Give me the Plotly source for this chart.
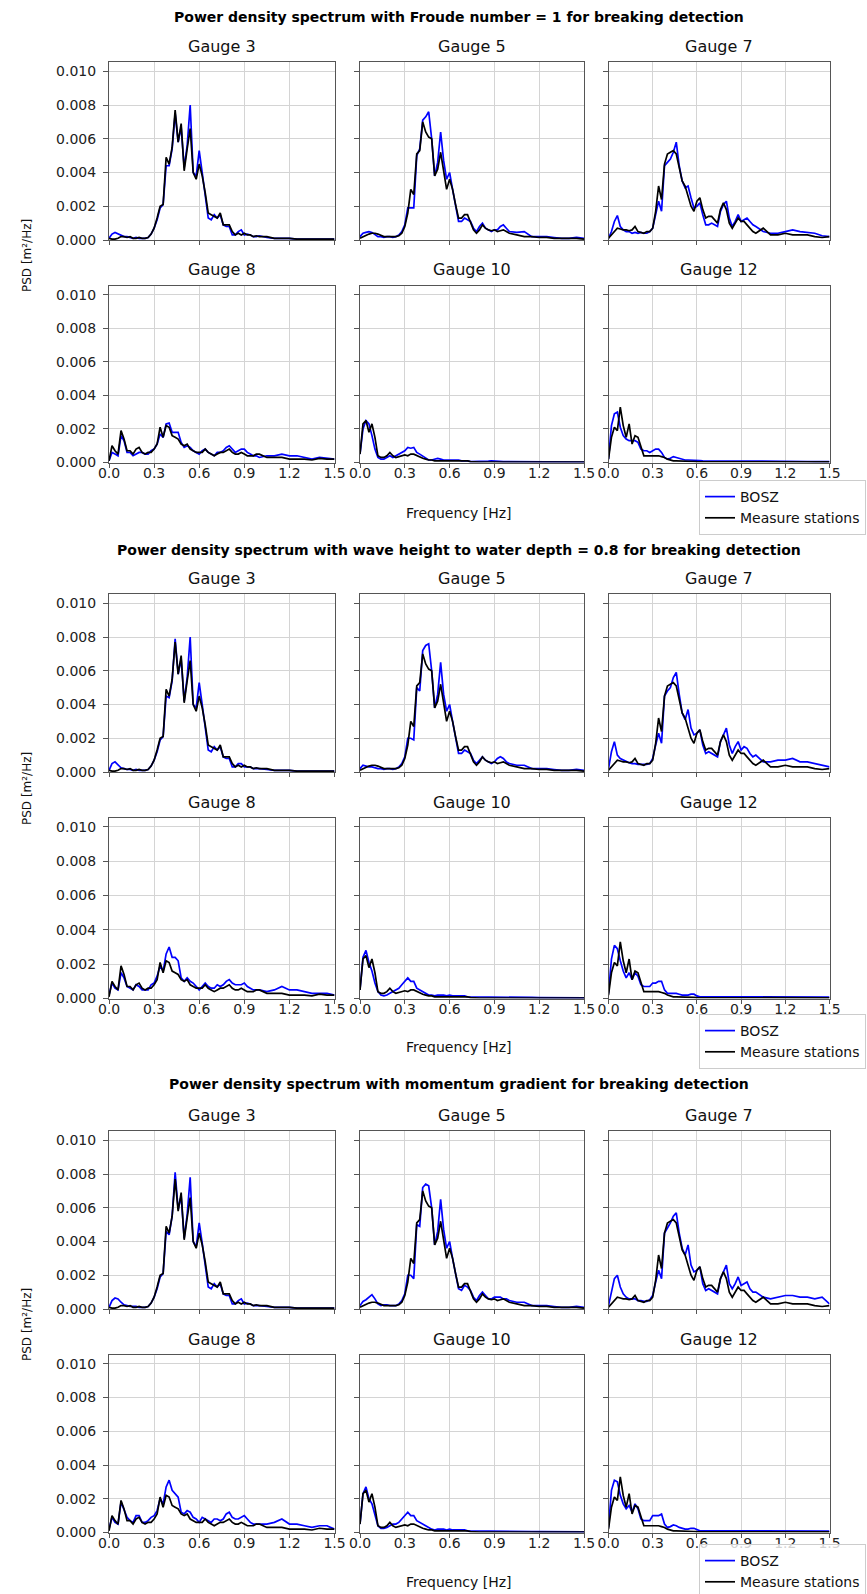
import plotly.graph_objects as go

W, H = 867, 1594

# ---------------- data (PSD values in units of 1e-3 m²/Hz) ----------------
F = [0.00, 0.02, 0.04, 0.06, 0.08, 0.10, 0.12, 0.14, 0.16, 0.18,
     0.20, 0.22, 0.24, 0.26, 0.28, 0.30, 0.32, 0.34, 0.36, 0.38,
     0.40, 0.42, 0.44, 0.46, 0.48, 0.50, 0.52, 0.54, 0.56, 0.58,
     0.60, 0.62, 0.64, 0.66, 0.68, 0.70, 0.72, 0.74, 0.76, 0.78,
     0.80, 0.82, 0.84, 0.86, 0.88, 0.90, 0.92, 0.94, 0.96, 0.98,
     1.00, 1.05, 1.10, 1.15, 1.20, 1.25, 1.30, 1.35, 1.40, 1.45, 1.50]

# Measured (same in all three figures)
MEAS_G3 = [0.10, 0.05, 0.05, 0.10, 0.20, 0.20, 0.15, 0.20, 0.10, 0.10,
           0.15, 0.10, 0.10, 0.15, 0.35, 0.70, 1.30, 2.00, 2.10, 4.90,
           4.50, 5.50, 7.70, 5.80, 6.90, 4.10, 5.40, 6.60, 4.00, 3.60,
           4.50, 3.80, 2.80, 1.60, 1.50, 1.40, 1.30, 1.60, 0.90, 0.90,
           0.90, 0.50, 0.30, 0.40, 0.30, 0.40, 0.30, 0.30, 0.20, 0.25,
           0.20, 0.20, 0.10, 0.10, 0.10, 0.05, 0.05, 0.05, 0.05, 0.05, 0.05]
MEAS_G5 = [0.10, 0.20, 0.30, 0.35, 0.40, 0.40, 0.35, 0.25, 0.20, 0.20,
           0.20, 0.20, 0.20, 0.25, 0.40, 0.80, 1.60, 3.00, 2.70, 5.10,
           5.30, 7.00, 6.40, 6.10, 6.00, 3.80, 4.20, 5.20, 4.00, 3.00,
           3.60, 3.00, 2.10, 1.30, 1.30, 1.50, 1.50, 1.00, 0.60, 0.40,
           0.60, 0.90, 0.70, 0.60, 0.55, 0.60, 0.50, 0.55, 0.60, 0.50,
           0.40, 0.30, 0.20, 0.20, 0.15, 0.15, 0.10, 0.10, 0.10, 0.10, 0.05]
MEAS_G7 = [0.10, 0.30, 0.50, 0.70, 0.65, 0.60, 0.60, 0.55, 0.60, 0.80,
           0.50, 0.45, 0.40, 0.50, 0.50, 0.70, 1.70, 3.20, 2.40, 4.50,
           5.10, 5.20, 5.30, 5.10, 4.20, 3.50, 3.20, 2.60, 2.00, 1.70,
           2.30, 2.50, 1.80, 1.30, 1.40, 1.40, 1.20, 1.00, 1.80, 2.20,
           1.80, 1.00, 0.70, 1.00, 1.30, 1.10, 1.10, 0.90, 0.70, 0.50,
           0.40, 0.70, 0.30, 0.30, 0.40, 0.30, 0.30, 0.30, 0.20, 0.15, 0.20]
MEAS_G8 = [0.10, 1.00, 0.70, 0.50, 1.90, 1.40, 0.70, 0.70, 0.50, 0.80,
           0.90, 0.60, 0.50, 0.60, 0.60, 0.80, 1.10, 2.10, 1.50, 2.20,
           2.10, 1.60, 1.50, 1.40, 1.10, 1.00, 1.10, 0.80, 0.70, 0.60,
           0.60, 0.60, 0.80, 0.60, 0.50, 0.40, 0.50, 0.60, 0.60, 0.70,
           0.80, 0.60, 0.50, 0.50, 0.60, 0.50, 0.40, 0.40, 0.40, 0.50,
           0.50, 0.30, 0.30, 0.30, 0.20, 0.20, 0.20, 0.15, 0.25, 0.20, 0.20]
MEAS_G10 = [0.50, 2.30, 2.50, 1.80, 2.30, 1.50, 0.40, 0.30, 0.30, 0.40,
            0.60, 0.40, 0.30, 0.35, 0.40, 0.45, 0.40, 0.50, 0.50, 0.40,
            0.30, 0.25, 0.20, 0.15, 0.15, 0.10, 0.10, 0.10, 0.10, 0.10,
            0.10, 0.10, 0.10, 0.10, 0.10, 0.10, 0.10, 0.05, 0.03, 0.03,
            0.03, 0.03, 0.03, 0.03, 0.03, 0.03, 0.03, 0.03, 0.03, 0.03,
            0.03, 0.03, 0.03, 0.03, 0.03, 0.03, 0.03, 0.03, 0.03, 0.03, 0.03]
MEAS_G12 = [0.20, 1.50, 2.10, 1.90, 3.30, 2.20, 1.50, 2.30, 1.10, 1.60,
            1.50, 0.90, 0.40, 0.40, 0.40, 0.40, 0.40, 0.40, 0.35, 0.30,
            0.20, 0.15, 0.10, 0.10, 0.10, 0.08, 0.08, 0.08, 0.06, 0.06,
            0.05, 0.05, 0.05, 0.05, 0.05, 0.05, 0.04, 0.04, 0.04, 0.04,
            0.04, 0.04, 0.04, 0.04, 0.04, 0.04, 0.04, 0.04, 0.04, 0.04,
            0.04, 0.04, 0.04, 0.04, 0.04, 0.04, 0.04, 0.04, 0.04, 0.04, 0.04]

# BOSZ, Froude number = 1
BOSZ_FR_G3 = [0.10, 0.35, 0.45, 0.35, 0.25, 0.20, 0.20, 0.15, 0.10, 0.15,
              0.10, 0.10, 0.10, 0.15, 0.35, 0.70, 1.20, 1.90, 2.10, 4.40,
              4.40, 5.40, 7.50, 5.80, 6.70, 4.30, 5.60, 8.00, 4.00, 3.80,
              5.30, 4.00, 2.70, 1.30, 1.20, 1.50, 1.30, 1.50, 0.90, 0.80,
              0.80, 0.30, 0.30, 0.50, 0.60, 0.30, 0.35, 0.30, 0.20, 0.20,
              0.25, 0.15, 0.10, 0.10, 0.10, 0.05, 0.05, 0.05, 0.05, 0.05, 0.05]
BOSZ_FR_G5 = [0.20, 0.40, 0.45, 0.50, 0.45, 0.30, 0.20, 0.20, 0.15, 0.20,
              0.20, 0.15, 0.20, 0.30, 0.50, 0.90, 1.90, 1.90, 1.90, 5.00,
              5.40, 7.10, 7.30, 7.60, 6.00, 3.80, 4.60, 6.40, 4.70, 3.60,
              4.00, 3.00, 2.00, 1.10, 1.10, 1.30, 1.20, 1.10, 0.70, 0.50,
              0.80, 1.00, 0.70, 0.60, 0.50, 0.60, 0.60, 0.80, 0.90, 0.70,
              0.50, 0.45, 0.50, 0.20, 0.20, 0.20, 0.15, 0.10, 0.10, 0.15, 0.10]
BOSZ_FR_G7 = [0.10, 0.50, 1.10, 1.45, 0.80, 0.60, 0.50, 0.50, 0.40, 0.45,
              0.40, 0.45, 0.40, 0.40, 0.50, 0.70, 1.50, 2.30, 1.70, 4.40,
              4.60, 4.80, 5.20, 5.80, 4.40, 3.50, 3.10, 3.20, 2.50, 1.90,
              2.00, 2.20, 1.50, 0.90, 0.90, 1.00, 0.90, 0.80, 1.70, 2.10,
              2.30, 1.30, 0.80, 1.10, 1.50, 1.10, 1.20, 1.30, 1.10, 0.90,
              0.80, 0.50, 0.40, 0.40, 0.50, 0.60, 0.50, 0.45, 0.40, 0.25, 0.20]
BOSZ_FR_G8 = [0.10, 0.60, 0.50, 0.40, 1.60, 1.30, 0.60, 0.60, 0.40, 0.50,
              0.60, 0.60, 0.50, 0.50, 0.70, 0.80, 1.10, 1.70, 1.50, 2.30,
              2.35, 1.80, 1.80, 1.80, 1.20, 0.90, 1.00, 0.90, 0.70, 0.60,
              0.50, 0.70, 0.80, 0.60, 0.50, 0.40, 0.60, 0.60, 0.70, 0.90,
              1.00, 0.80, 0.60, 0.70, 0.80, 0.80, 0.60, 0.50, 0.40, 0.40,
              0.30, 0.40, 0.40, 0.50, 0.40, 0.40, 0.30, 0.20, 0.30, 0.25, 0.20]
BOSZ_FR_G10 = [0.50, 2.00, 2.50, 2.30, 1.60, 0.80, 0.30, 0.20, 0.20, 0.30,
               0.40, 0.30, 0.40, 0.50, 0.60, 0.70, 0.90, 0.85, 0.90, 0.60,
               0.50, 0.40, 0.30, 0.15, 0.15, 0.20, 0.25, 0.20, 0.15, 0.15,
               0.15, 0.15, 0.15, 0.15, 0.10, 0.10, 0.10, 0.05, 0.05, 0.05,
               0.08, 0.08, 0.08, 0.08, 0.10, 0.08, 0.05, 0.05, 0.05, 0.05,
               0.05, 0.05, 0.05, 0.05, 0.06, 0.05, 0.05, 0.03, 0.03, 0.03, 0.03]
BOSZ_FR_G12 = [0.20, 2.20, 2.90, 3.00, 2.10, 1.60, 1.40, 1.30, 1.30, 1.30,
               1.20, 0.80, 0.70, 0.70, 0.60, 0.70, 0.80, 0.80, 0.60, 0.30,
               0.20, 0.25, 0.35, 0.30, 0.25, 0.20, 0.15, 0.15, 0.15, 0.15,
               0.15, 0.12, 0.10, 0.10, 0.08, 0.08, 0.07, 0.07, 0.07, 0.07,
               0.07, 0.07, 0.07, 0.07, 0.08, 0.10, 0.07, 0.06, 0.06, 0.06,
               0.06, 0.06, 0.06, 0.06, 0.06, 0.06, 0.10, 0.06, 0.05, 0.05, 0.05]

# BOSZ, wave height to water depth = 0.8
BOSZ_HD_G3 = [0.10, 0.50, 0.60, 0.40, 0.25, 0.20, 0.15, 0.15, 0.10, 0.15,
              0.10, 0.10, 0.10, 0.15, 0.35, 0.70, 1.20, 1.90, 2.10, 4.50,
              4.40, 5.40, 7.90, 5.80, 6.70, 4.20, 5.60, 8.00, 4.00, 3.80,
              5.30, 4.00, 2.70, 1.30, 1.20, 1.50, 1.30, 1.50, 0.90, 0.80,
              0.80, 0.30, 0.30, 0.50, 0.50, 0.30, 0.30, 0.30, 0.20, 0.20,
              0.20, 0.15, 0.10, 0.10, 0.10, 0.05, 0.05, 0.05, 0.05, 0.05, 0.05]
BOSZ_HD_G5 = [0.20, 0.40, 0.35, 0.30, 0.30, 0.25, 0.20, 0.20, 0.15, 0.20,
              0.20, 0.15, 0.20, 0.30, 0.50, 0.90, 2.00, 2.00, 1.90, 5.00,
              4.80, 7.20, 7.50, 7.60, 6.00, 3.80, 4.60, 6.50, 4.60, 3.60,
              4.00, 3.00, 2.00, 1.10, 1.10, 1.30, 1.20, 1.10, 0.70, 0.50,
              0.70, 0.90, 0.70, 0.60, 0.50, 0.60, 0.80, 0.90, 0.80, 0.60,
              0.50, 0.40, 0.40, 0.20, 0.20, 0.20, 0.15, 0.10, 0.10, 0.15, 0.10]
BOSZ_HD_G7 = [0.20, 1.20, 1.80, 1.00, 0.80, 0.70, 0.60, 0.55, 0.50, 0.50,
              0.45, 0.45, 0.45, 0.45, 0.50, 0.80, 1.60, 2.30, 1.70, 4.50,
              4.80, 5.00, 5.60, 5.90, 4.60, 3.50, 3.10, 3.70, 2.60, 2.20,
              2.30, 2.50, 1.60, 1.10, 1.20, 1.10, 1.00, 0.90, 1.80, 2.20,
              2.60, 1.60, 1.10, 1.50, 1.80, 1.30, 1.50, 1.40, 1.10, 0.90,
              1.00, 0.60, 0.60, 0.70, 0.70, 0.80, 0.60, 0.60, 0.50, 0.40, 0.30]
BOSZ_HD_G8 = [0.20, 0.90, 0.60, 0.50, 1.50, 1.20, 0.70, 0.60, 0.50, 0.80,
              0.70, 0.50, 0.50, 0.50, 0.80, 0.90, 1.30, 1.90, 1.60, 2.60,
              3.00, 2.40, 2.40, 2.20, 1.20, 1.00, 1.20, 1.00, 0.90, 0.70,
              0.50, 0.70, 0.90, 0.70, 0.60, 0.60, 0.80, 0.70, 0.80, 1.00,
              1.10, 0.90, 0.80, 0.80, 0.80, 0.90, 0.70, 0.60, 0.50, 0.50,
              0.50, 0.40, 0.50, 0.70, 0.50, 0.50, 0.40, 0.30, 0.30, 0.30, 0.20]
BOSZ_HD_G10 = [0.50, 2.40, 2.80, 2.10, 1.60, 0.90, 0.40, 0.20, 0.15, 0.20,
               0.30, 0.40, 0.45, 0.60, 0.80, 1.00, 1.20, 1.00, 1.00, 0.60,
               0.50, 0.40, 0.30, 0.20, 0.20, 0.15, 0.20, 0.20, 0.20, 0.15,
               0.20, 0.15, 0.15, 0.15, 0.15, 0.15, 0.10, 0.10, 0.10, 0.10,
               0.10, 0.10, 0.10, 0.10, 0.10, 0.10, 0.08, 0.08, 0.08, 0.08,
               0.08, 0.08, 0.06, 0.06, 0.05, 0.05, 0.05, 0.05, 0.04, 0.04, 0.04]
BOSZ_HD_G12 = [0.30, 2.30, 3.10, 2.90, 2.20, 1.60, 1.20, 1.50, 1.10, 1.50,
               1.30, 0.80, 0.70, 0.70, 0.70, 0.90, 0.90, 1.00, 1.00, 0.50,
               0.30, 0.30, 0.30, 0.30, 0.25, 0.20, 0.20, 0.20, 0.25, 0.25,
               0.15, 0.10, 0.10, 0.10, 0.08, 0.08, 0.08, 0.08, 0.08, 0.08,
               0.08, 0.08, 0.08, 0.08, 0.08, 0.08, 0.08, 0.08, 0.08, 0.08,
               0.08, 0.08, 0.08, 0.08, 0.08, 0.08, 0.08, 0.08, 0.08, 0.08, 0.08]

# BOSZ, momentum gradient
BOSZ_MG_G3 = [0.10, 0.50, 0.65, 0.60, 0.40, 0.25, 0.20, 0.15, 0.15, 0.15,
              0.10, 0.10, 0.10, 0.15, 0.35, 0.70, 1.20, 1.90, 2.10, 4.60,
              4.40, 5.50, 8.10, 5.90, 6.70, 4.20, 5.60, 7.80, 4.00, 3.70,
              5.10, 3.90, 2.70, 1.30, 1.20, 1.50, 1.30, 1.50, 0.90, 0.80,
              0.80, 0.30, 0.30, 0.50, 0.60, 0.30, 0.35, 0.30, 0.20, 0.20,
              0.20, 0.15, 0.10, 0.10, 0.10, 0.05, 0.05, 0.05, 0.05, 0.05, 0.05]
BOSZ_MG_G5 = [0.20, 0.45, 0.55, 0.70, 0.85, 0.60, 0.30, 0.20, 0.25, 0.25,
              0.20, 0.20, 0.20, 0.30, 0.50, 0.90, 2.00, 2.00, 1.80, 5.00,
              4.90, 7.20, 7.40, 7.30, 6.00, 3.80, 4.60, 6.50, 4.70, 3.60,
              4.00, 3.00, 2.00, 1.20, 1.10, 1.40, 1.30, 1.10, 0.70, 0.50,
              0.80, 1.00, 0.80, 0.60, 0.60, 0.70, 0.70, 0.70, 0.60, 0.60,
              0.50, 0.40, 0.40, 0.20, 0.20, 0.20, 0.15, 0.10, 0.10, 0.15, 0.10]
BOSZ_MG_G7 = [0.20, 1.00, 1.80, 2.00, 1.30, 0.90, 0.70, 0.60, 0.60, 0.60,
              0.50, 0.50, 0.45, 0.45, 0.55, 0.80, 1.60, 2.30, 1.80, 4.50,
              4.80, 5.10, 5.50, 5.70, 4.50, 3.60, 3.20, 3.80, 2.60, 2.20,
              2.30, 2.50, 1.50, 1.10, 1.20, 1.10, 1.00, 0.90, 1.80, 2.20,
              2.60, 1.50, 1.20, 1.50, 1.90, 1.40, 1.50, 1.60, 1.20, 1.00,
              1.00, 0.70, 0.60, 0.70, 0.80, 0.80, 0.70, 0.70, 0.60, 0.70, 0.30]
BOSZ_MG_G8 = [0.20, 0.90, 0.60, 0.50, 1.80, 1.40, 0.90, 0.70, 0.60, 1.00,
              1.00, 0.60, 0.60, 0.70, 0.90, 1.00, 1.30, 2.00, 1.70, 2.70,
              3.10, 2.50, 2.30, 2.10, 1.20, 1.10, 1.30, 1.20, 0.90, 0.80,
              0.60, 0.90, 0.80, 0.70, 0.60, 0.80, 0.80, 0.70, 0.80, 1.10,
              1.20, 0.90, 0.80, 0.80, 0.90, 1.00, 0.80, 0.60, 0.50, 0.50,
              0.50, 0.50, 0.60, 0.80, 0.50, 0.50, 0.40, 0.30, 0.40, 0.40, 0.20]
BOSZ_MG_G10 = [0.50, 2.30, 2.70, 2.00, 1.70, 1.00, 0.40, 0.25, 0.25, 0.30,
               0.40, 0.50, 0.50, 0.60, 0.80, 1.00, 1.20, 1.00, 1.00, 0.70,
               0.60, 0.50, 0.35, 0.25, 0.20, 0.15, 0.20, 0.20, 0.20, 0.15,
               0.20, 0.15, 0.15, 0.15, 0.15, 0.15, 0.10, 0.10, 0.10, 0.10,
               0.10, 0.10, 0.10, 0.10, 0.10, 0.10, 0.08, 0.08, 0.08, 0.08,
               0.08, 0.08, 0.06, 0.06, 0.05, 0.05, 0.05, 0.05, 0.04, 0.04, 0.04]
BOSZ_MG_G12 = [0.30, 2.50, 3.10, 3.00, 2.20, 1.70, 1.40, 1.60, 1.20, 1.70,
               1.40, 0.80, 0.70, 0.70, 0.70, 1.00, 1.00, 1.00, 1.10, 0.50,
               0.30, 0.35, 0.45, 0.40, 0.30, 0.25, 0.20, 0.20, 0.25, 0.25,
               0.15, 0.10, 0.10, 0.10, 0.08, 0.08, 0.08, 0.08, 0.08, 0.08,
               0.08, 0.08, 0.08, 0.08, 0.08, 0.08, 0.08, 0.08, 0.08, 0.08,
               0.08, 0.08, 0.08, 0.08, 0.08, 0.08, 0.08, 0.08, 0.08, 0.08, 0.08]

GAUGES = ["Gauge 3", "Gauge 5", "Gauge 7", "Gauge 8", "Gauge 10", "Gauge 12"]
PANEL_TITLES = [
    "Power density spectrum with Froude number = 1 for breaking detection",
    "Power density spectrum with wave height to water depth = 0.8 for breaking detection",
    "Power density spectrum with momentum gradient for breaking detection",
]
SERIES_NAMES = ["BOSZ", "Measure stations"]
MEASURED = [MEAS_G3, MEAS_G5, MEAS_G7, MEAS_G8, MEAS_G10, MEAS_G12]
BOSZ = [
    [BOSZ_FR_G3, BOSZ_FR_G5, BOSZ_FR_G7, BOSZ_FR_G8, BOSZ_FR_G10, BOSZ_FR_G12],
    [BOSZ_HD_G3, BOSZ_HD_G5, BOSZ_HD_G7, BOSZ_HD_G8, BOSZ_HD_G10, BOSZ_HD_G12],
    [BOSZ_MG_G3, BOSZ_MG_G5, BOSZ_MG_G7, BOSZ_MG_G8, BOSZ_MG_G10, BOSZ_MG_G12],
]
X_TICKS = [0.0, 0.3, 0.6, 0.9, 1.2, 1.5]
X_TICK_LABELS = ["0.0", "0.3", "0.6", "0.9", "1.2", "1.5"]
Y_TICKS = [0, 2, 4, 6, 8, 10]
Y_TICK_LABELS = ["0.000", "0.002", "0.004", "0.006", "0.008", "0.010"]

# ---------------- layout geometry (pixels) ----------------
FONT = "DejaVu Sans"
COLS = [(109, 334.5), (360, 584), (608.5, 829.5)]
ROWS = [(62.0, 240.0), (285.5, 462.5)]
ROW2_BOTTOM_ADJ = [0, 4, 1]
PANEL_OFF = [0, 532, 1069]
TITLE_Y = [17.5, 549.5, 1084]
FREQ_Y = [513.5, 1046.5, 1582]
LEGEND_TOP = [480, 1014, 1544]
PSD_Y = [256, 789, 1325]


def px(x):
    return x / W


def py(y):
    return 1 - y / H


fig = go.Figure()
layout = dict(
    width=W, height=H,
    margin=dict(l=0, r=0, t=0, b=0, autoexpand=False),
    paper_bgcolor="white", plot_bgcolor="white",
    font=dict(family=FONT, size=14, color="#111"),
    showlegend=True,
)
annotations = []

for p in range(3):
    off = PANEL_OFF[p]
    legname = "legend" if p == 0 else f"legend{p + 1}"
    for g in range(6):
        r, c = divmod(g, 3)
        n = p * 6 + g + 1
        xa = "xaxis" if n == 1 else f"xaxis{n}"
        ya = "yaxis" if n == 1 else f"yaxis{n}"
        xr = "x" if n == 1 else f"x{n}"
        yr = "y" if n == 1 else f"y{n}"
        x0, x1 = COLS[c]
        y0, y1 = ROWS[r]
        y0 += off
        y1 += off + (ROW2_BOTTOM_ADJ[p] if r == 1 else 0)
        common = dict(showgrid=True, gridcolor="#d4d4d4", gridwidth=1,
                      zeroline=False, showline=True, linecolor="#555",
                      linewidth=1, mirror=True, ticks="outside",
                      tickcolor="#555", tickwidth=1,
                      tickfont=dict(family=FONT, size=14, color="#222"))
        layout[xa] = dict(domain=[px(x0), px(x1)], anchor=yr, range=[0, 1.5],
                          tickmode="array", tickvals=X_TICKS,
                          ticktext=X_TICK_LABELS, ticklen=4,
                          ticklabelstandoff=-6,
                          showticklabels=(r == 1), **common)
        layout[ya] = dict(domain=[py(y1), py(y0)], anchor=xr, range=[0, 10.55],
                          tickmode="array", tickvals=Y_TICKS,
                          ticktext=Y_TICK_LABELS, ticklen=5,
                          ticklabelstandoff=4,
                          showticklabels=(c == 0), **common)
        fig.add_trace(go.Scatter(
            x=F, y=BOSZ[p][g], mode="lines", name=SERIES_NAMES[0],
            line=dict(color="#0000ff", width=1.7),
            xaxis=xr, yaxis=yr, legend=legname, showlegend=(g == 0),
            hoverinfo="skip"))
        fig.add_trace(go.Scatter(
            x=F, y=MEASURED[g], mode="lines", name=SERIES_NAMES[1],
            line=dict(color="black", width=1.7),
            xaxis=xr, yaxis=yr, legend=legname, showlegend=(g == 0),
            hoverinfo="skip"))
        annotations.append(dict(
            text=GAUGES[g], x=px((x0 + x1) / 2), y=py(y0 - 15.5),
            xref="paper", yref="paper", xanchor="center", yanchor="middle",
            showarrow=False, font=dict(family=FONT, size=16, color="#111")))

    annotations.append(dict(
        text="<b>" + PANEL_TITLES[p] + "</b>", x=px(459), y=py(TITLE_Y[p]),
        xref="paper", yref="paper", xanchor="center", yanchor="middle",
        showarrow=False, font=dict(family=FONT, size=14, color="black")))
    annotations.append(dict(
        text="Frequency [Hz]", x=px(459), y=py(FREQ_Y[p]),
        xref="paper", yref="paper", xanchor="center", yanchor="middle",
        showarrow=False, font=dict(family=FONT, size=14, color="#111")))
    annotations.append(dict(
        text="PSD [m²/Hz]", x=px(27), y=py(PSD_Y[p]), textangle=-90,
        xref="paper", yref="paper", xanchor="center", yanchor="middle",
        showarrow=False, font=dict(family=FONT, size=12, color="#111")))
    layout[legname] = dict(
        x=px(699), y=py(LEGEND_TOP[p]), xanchor="left", yanchor="top",
        bordercolor="#cccccc", borderwidth=1,
        bgcolor="rgba(255,255,255,0.8)",
        font=dict(family=FONT, size=14, color="#111"),
        tracegroupgap=0, itemwidth=30, traceorder="normal")

layout["annotations"] = annotations
fig.update_layout(**layout)
fig.write_html("out.html")
